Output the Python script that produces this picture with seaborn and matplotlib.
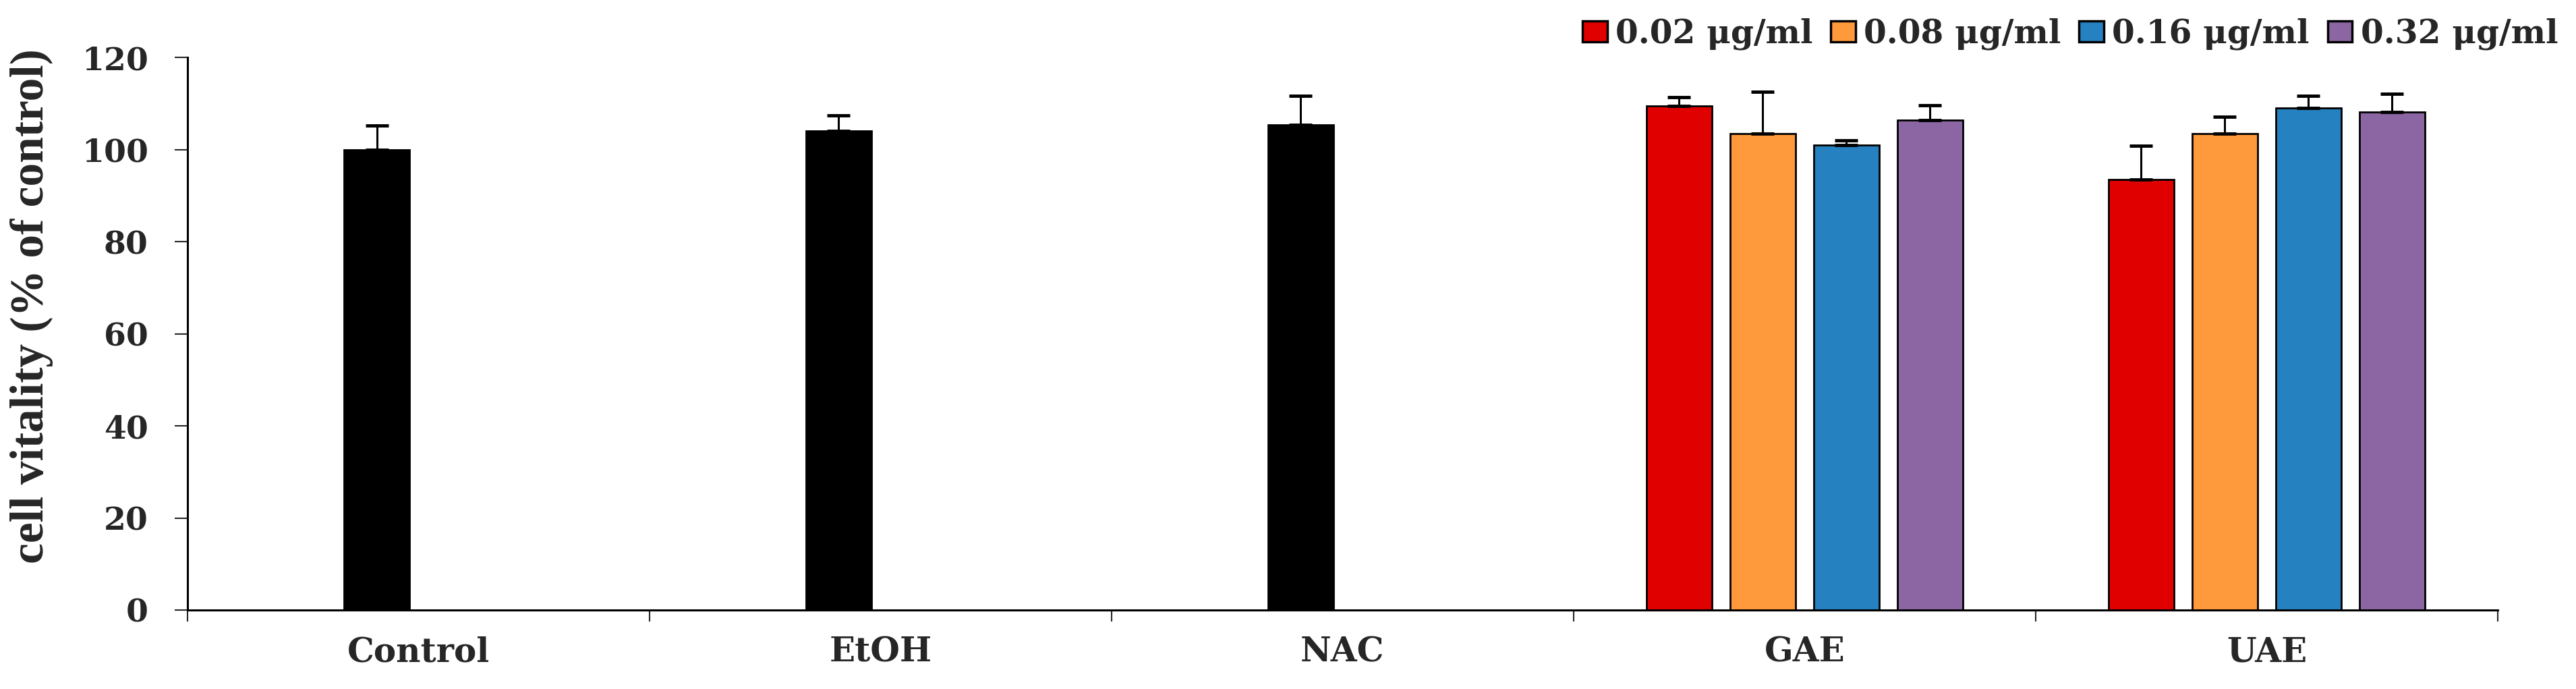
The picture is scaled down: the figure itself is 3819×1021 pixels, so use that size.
import pandas as pd
import matplotlib
matplotlib.use("Agg")
import matplotlib.pyplot as plt
import seaborn as sns
from matplotlib.patches import Patch

# Data
categories = ["Control", "EtOH", "NAC", "GAE", "UAE"]
doses = ["0.02 μg/ml", "0.08 μg/ml", "0.16 μg/ml", "0.32 μg/ml"]
dose_colors = ["#E00000", "#FF9A3C", "#2581C0", "#8B66A3"]

ref_groups = ["Control", "EtOH", "NAC"]
ref_vals = [100.0, 104.0, 105.3]
ref_err = [5.2, 3.4, 6.3]

gae_vals = [109.4, 103.5, 101.0, 106.4]
gae_err = [1.9, 9.1, 1.0, 3.2]
uae_vals = [93.5, 103.5, 109.0, 108.1]
uae_err = [7.3, 3.6, 2.7, 4.0]

rows = []
# reference groups sit in the second dodge slot, drawn black
for g, v, e in zip(ref_groups, ref_vals, ref_err):
    rows.append({"group": g, "dose": doses[1], "value": v, "err": e, "ref": True})
for g, vals, errs in [("GAE", gae_vals, gae_err), ("UAE", uae_vals, uae_err)]:
    for d, v, e in zip(doses, vals, errs):
        rows.append({"group": g, "dose": d, "value": v, "err": e, "ref": False})
df = pd.DataFrame(rows)

sns.set_style("white")
plt.rcParams["font.family"] = ["DejaVu Serif"]
plt.rcParams["font.weight"] = "bold"

fig = plt.figure(figsize=(38.19, 10.21), dpi=100)
ax = fig.add_axes([0.0728, 0.1146, 0.8968, 0.8021])

sns.barplot(data=df, x="group", y="value", hue="dose", order=categories,
            hue_order=doses, palette=dose_colors, saturation=1, errorbar=None,
            width=0.724, gap=0.22, edgecolor="black", linewidth=2.0,
            legend=False, ax=ax)

# recolor reference bars and add upward error bars
for level, cont in zip(doses, ax.containers):
    sub = df[df["dose"] == level].set_index("group").reindex(categories).dropna(subset=["value"])
    xs, ys, es = [], [], []
    for bar, (g, r) in zip(cont, sub.iterrows()):
        if r["ref"]:
            bar.set_facecolor("black")
        xs.append(bar.get_x() + bar.get_width() / 2)
        ys.append(r["value"])
        es.append(r["err"])
    ax.errorbar(xs, ys, yerr=[[0] * len(es), es], fmt="none", ecolor="black",
                elinewidth=2.2, capsize=12, capthick=3.5, zorder=3)

ax.set_xlim(-0.5, 4.5)
ax.set_ylim(0, 120)
ax.set_yticks(range(0, 121, 20))
ax.tick_params(axis="y", direction="out", length=14, width=1.5, pad=28,
               labelsize=34, left=True)
ax.set_xticks(range(5))
ax.set_xticklabels(categories)
ax.set_xticks([i - 0.5 for i in range(6)], minor=True)
ax.tick_params(axis="x", which="major", length=0, pad=28, labelsize=36)
ax.tick_params(axis="x", which="minor", direction="out", length=12, width=1.5, bottom=True)
ax.set_xlabel("")
ax.set_ylabel("cell vitality (% of control)", fontsize=50, fontweight="bold",
              family=["Liberation Serif"])
ax.yaxis.set_label_coords(-0.058, 0.55)

for s in ["top", "right"]:
    ax.spines[s].set_visible(False)
for s in ["left", "bottom"]:
    ax.spines[s].set_linewidth(2.2)
    ax.spines[s].set_color("black")

handles = [Patch(facecolor=c, edgecolor="black", linewidth=2.5) for c in dose_colors]
fig.legend(handles, doses, loc="upper right", bbox_to_anchor=(1.0, 1.0),
           ncol=4, frameon=False, fontsize=35, handlelength=0.76, handleheight=0.6,
           handletextpad=0.25, columnspacing=0.55, borderaxespad=0.15)

fig.savefig("out.png", dpi=100)
